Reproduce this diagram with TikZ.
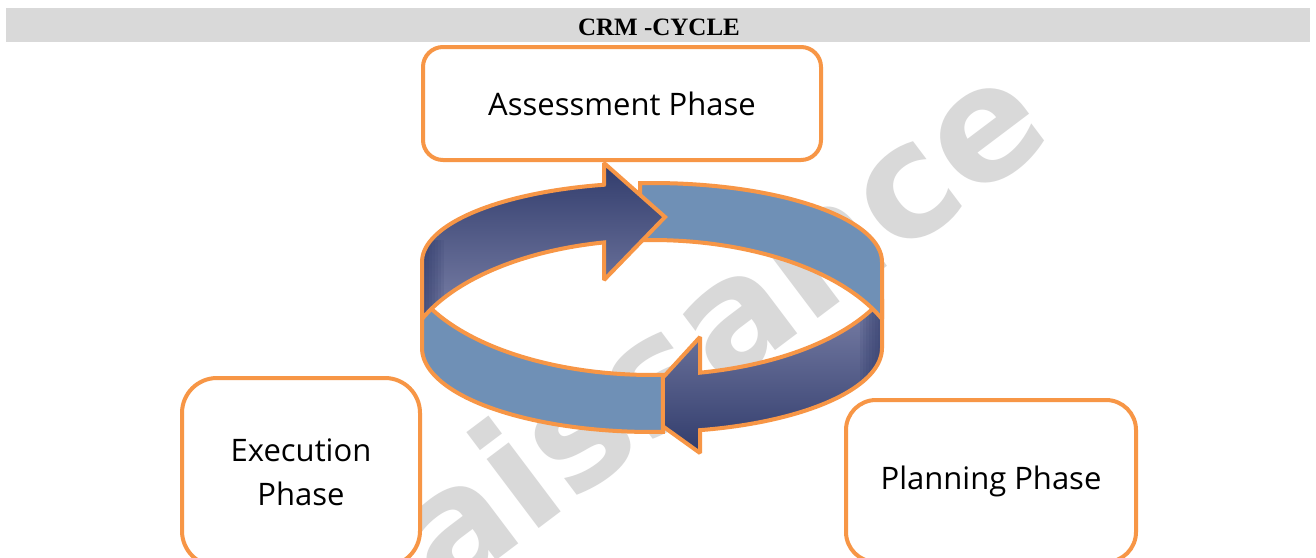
\documentclass[tikz,border=0pt]{standalone}
\usepackage{fontspec}
\newfontfamily\boxfont{Open Sans}
\newfontfamily\titlefont{Liberation Serif}
\newfontfamily\wmfont{DejaVu Sans}
\definecolor{orng}{HTML}{F79646}
\definecolor{ringblue}{HTML}{6F90B6}
\definecolor{navyD}{HTML}{313C6C}
\definecolor{navyL}{HTML}{7A80A7}
\definecolor{wmgray}{HTML}{D9D9D9}
\definecolor{hdrgray}{HTML}{D9D9D9}
\tikzset{
  phasebox/.style={draw=orng, line width=4pt, fill=white, inner sep=0pt,
    font=\boxfont\fontsize{31}{44}\selectfont, align=center},
  ringline/.style={draw=orng, line width=4pt, line join=miter, miter limit=2},
  edgedark/.style={fill=navyD, fill opacity=0.13},
}
\def\pathRone{plot[domain=78.93:23.07, samples=50] ({652+250*cos(\x)},{250+125*sin(\x)})
  -- (882,348)
  -- plot[domain=0:77.95, samples=50] ({652+230*cos(\x)},{348+84*sin(\x)})
  -- (700,453) -- (636,407) -- (700,337) -- cycle}
\def\pathRtwo{plot[domain=87.48:156.93, samples=50] ({652+250*cos(\x)},{250+125*sin(\x)})
  -- (422,348)
  -- plot[domain=180:87.26, samples=50] ({652+230*cos(\x)},{348+84*sin(\x)}) -- cycle}
\def\pathRthree{plot[domain=92.99:0, samples=50] ({652+230*cos(\x)},{262-79*sin(\x)})
  -- (882,319)
  -- plot[domain=23.07:92.75, samples=50] ({652+250*cos(\x)},{370-130*sin(\x)}) -- cycle}
\def\pathRfour{(604,184.7) -- (604,163) -- (665,217) -- (604,280)
  -- plot[domain=101.07:156.93, samples=50] ({652+250*cos(\x)},{370-130*sin(\x)})
  -- (422,262)
  -- plot[domain=180:102.05, samples=50] ({652+230*cos(\x)},{262-79*sin(\x)}) -- cycle}
\begin{document}
\begin{tikzpicture}[x=1pt,y=-1pt]
\clip (0,0) rectangle (1316,557);
\fill[white] (0,0) rectangle (1316,557);
% header bar
\fill[hdrgray] (6,8) rectangle (1310,42);
\node[font=\titlefont\bfseries\fontsize{25}{25}\selectfont] (title) at (659,27) {CRM -CYCLE};
% watermark
\node[text=wmgray, font=\wmfont\bfseries\fontsize{158}{158}\selectfont, rotate=37] (wm) at (715,322) {aissance};
% phase boxes
\node[phasebox, rounded corners=20pt, minimum width=398pt, minimum height=113pt] (assess) at (622,103.5) {Assessment Phase};
\node[phasebox, rounded corners=35pt, minimum width=238pt, minimum height=188pt] (exec) at (301,472) {Execution\\Phase};
\node[phasebox, rounded corners=30pt, minimum width=290pt, minimum height=162pt] (plan) at (991,481) {Planning Phase};
% cycle: front-right arrow head (dark)
\shade[top color=navyL, bottom color=navyD] \pathRone;
\begin{scope}
  \clip \pathRone;
  \foreach \w in {3,6,...,24} \fill[edgedark] ({884-\w},240) rectangle (890,470);
\end{scope}
\path[ringline] \pathRone;
% front-left arrow tail (blue)
\path[ringline, fill=ringblue] \pathRtwo;
% back-right arrow tail (blue)
\path[ringline, fill=ringblue] \pathRthree;
% back-left arrow head (dark)
\shade[top color=navyD, bottom color=navyL] \pathRfour;
\begin{scope}
  \clip \pathRfour;
  \foreach \w in {3,6,...,24} \fill[edgedark] (414,240) rectangle ({420+\w},330);
\end{scope}
\path[ringline] \pathRfour;
\end{tikzpicture}
\end{document}
